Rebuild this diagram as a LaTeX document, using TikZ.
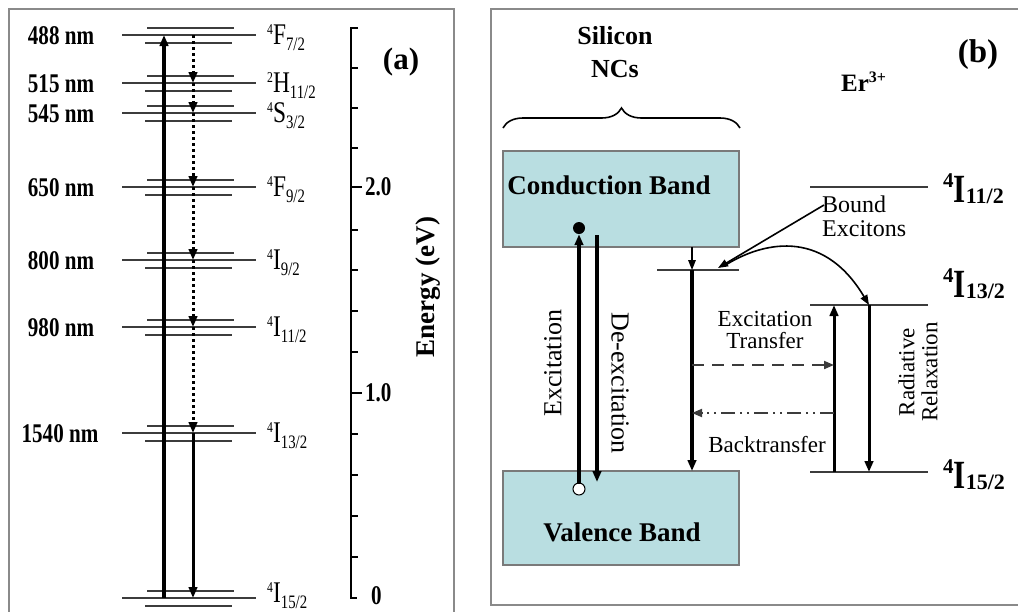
\documentclass[tikz,border=0pt]{standalone}
\usepackage{fontspec}
\setmainfont{Liberation Serif}
\newfontfamily\condfont[FakeStretch=0.78]{Liberation Serif}
\usetikzlibrary{arrows.meta,decorations.pathreplacing}
\definecolor{bandfill}{HTML}{B9DEE1}
\definecolor{bandedge}{HTML}{7A7A7A}
\definecolor{framegray}{HTML}{8A8A8A}
\definecolor{lvlc}{HTML}{3C3C3C}
\newcommand{\fsz}[1]{\fontsize{#1}{#1}\selectfont}
\newcommand{\termA}[3]{{\condfont\fsz{30}\raisebox{10pt}{\fsz{15}#1}#2\raisebox{-6pt}{\fsz{19}#3}}}
\newcommand{\termB}[3]{{\bfseries\raisebox{15pt}{\fsz{21}#1}{\condfont\fsz{40}#2}\raisebox{-1pt}{\fsz{22}#3}}}
\begin{document}
\begin{tikzpicture}[x=1pt,y=-1pt,
  lvl/.style={draw=lvlc, line width=1.5pt},
  lvlb/.style={draw=lvlc, line width=1.7pt},
  frame/.style={draw=framegray, line width=1.5pt},
  tipd/.style={-{Triangle[length=11pt,width=8.5pt]}},
  bigarr/.style={tipd, line width=3.4pt},
  medarr/.style={tipd, line width=3pt},
  thinarr/.style={-{Triangle[length=10pt,width=7.5pt]}, line width=1.6pt},
  dotarr/.style={medarr, dash pattern=on 3pt off 3pt},
  nmlab/.style={anchor=base, font=\condfont\bfseries\fsz{27}, inner sep=0pt},
  termlab/.style={anchor=base west, inner sep=0pt},
  ticklab/.style={anchor=west, font=\condfont\bfseries\fsz{27}, inner sep=0pt},
  band/.style={draw=bandedge, fill=bandfill, line width=1.2pt, minimum width=236pt, inner sep=0pt},
  bandlab/.style={font=\bfseries\fsz{27}, inner sep=0pt},
  txt/.style={font=\fsz{23}, inner sep=0pt, align=center},
]
\useasboundingbox (0,0) rectangle (1018,611);

% ---------- panel frames ----------
\draw[frame] (9,9) rectangle (454,630);
\draw[frame] (491,9) rectangle (1030,605);

% ---------- panel (a): levels ----------
\foreach \i/\y in {1/35,2/83,3/113,4/187,5/260,6/327,7/433,8/598}{
  \draw[lvl] (122,\y) -- (256,\y);
  \draw[lvl] (147,{\y-7}) -- (234,{\y-7});
  \draw[lvl] (145,{\y+8}) -- (232,{\y+8});
  \coordinate (d\i) at (193,\y);
  \coordinate (u\i) at (164,\y);
}
\node[nmlab] (nm1) at (61,44) {488 nm};
\node[nmlab] (nm2) at (61,92) {515 nm};
\node[nmlab] (nm3) at (61,122) {545 nm};
\node[nmlab] (nm4) at (61,196) {650 nm};
\node[nmlab] (nm5) at (61,269) {800 nm};
\node[nmlab] (nm6) at (61,336) {980 nm};
\node[nmlab] (nm7) at (60,442) {1540 nm};

\node[termlab] (t1) at (267,44) {\termA{4}{F}{7/2}};
\node[termlab] (t2) at (267,92) {\termA{2}{H}{11/2}};
\node[termlab] (t3) at (267,122) {\termA{4}{S}{3/2}};
\node[termlab] (t4) at (267,196) {\termA{4}{F}{9/2}};
\node[termlab] (t5) at (267,269) {\termA{4}{I}{9/2}};
\node[termlab] (t6) at (267,336) {\termA{4}{I}{11/2}};
\node[termlab] (t7) at (267,442) {\termA{4}{I}{13/2}};
\node[termlab] (t8) at (267,602) {\termA{4}{I}{15/2}};

% arrows in (a)
\draw[bigarr] (u8) -- (u1);
\foreach \a/\b in {1/2,2/3,3/4,4/5,5/6,6/7}{
  \draw[dotarr] (d\a) -- (d\b);
}
\draw[medarr] (d7) -- (d8);

% energy axis
\draw[line width=2.2pt] (358,28) -- (351,28) -- (351,598) -- (357,598);
\foreach \y in {68,108,148,230,270,311,352,434,475,516,557}{
  \draw[line width=2.2pt] (351,\y) -- (358,\y);
}
\draw[line width=2.2pt] (351,187) -- (362,187);
\draw[line width=2.2pt] (351,393) -- (362,393);
\node[ticklab] (e2) at (365,187) {2.0};
\node[ticklab] (e1) at (365,393) {1.0};
\node[ticklab] (e0) at (371,596) {0};
\node[font=\bfseries\fsz{27}, rotate=90, inner sep=0pt] (eax) at (428,287) {Energy (eV)};
\node[font=\bfseries\fsz{31}, inner sep=0pt] (pa) at (401,62) {(a)};

% ---------- panel (b) ----------
\node[font=\bfseries\fsz{26}, inner sep=0pt] (si1) at (615,36) {Silicon};
\node[font=\bfseries\fsz{26}, inner sep=0pt] (si2) at (615,69) {NCs};
\draw[line width=1.6pt, decorate, decoration={brace, amplitude=20pt}] (503,128) -- (740,128);

\node[band, minimum height=96pt] (cb) at (621,199) {};
\node[bandlab] (cbl) at (609,185) {Conduction Band};
\node[band, minimum height=94pt] (vb) at (621,518) {};
\node[bandlab] (vbl) at (622,532) {Valence Band};

% excitation / de-excitation
\node[circle, fill=black, inner sep=0pt, minimum size=12pt] (el) at (579,228) {};
\node[circle, draw=black, fill=white, line width=1pt, inner sep=0pt, minimum size=12pt] (ho) at (579,489) {};
\draw[bigarr, shorten <=-1pt] (ho) -- (el);
\coordinate (de1) at (597,235);
\coordinate (de2) at (597,482);
\draw[bigarr] (de1) -- (de2);
\node[font=\fsz{26}, rotate=90, inner sep=0pt] (exl) at (553,363) {Excitation};
\node[font=\fsz{26}, rotate=-90, inner sep=0pt] (dexl) at (620,383) {De-excitation};

% bound exciton level
\draw[lvlb] (657,270) -- (739,270);
\coordinate (cbt) at (692,247);
\coordinate (bx) at (692,270);
\coordinate (vbt) at (692,471);
\draw[thinarr] (cbt) -- (bx);
\draw[bigarr] (bx) -- (vbt);

% Er levels
\draw[lvlb] (810,187) -- (928,187);
\draw[lvlb] (810,305) -- (928,305);
\draw[lvlb] (810,472) -- (928,472);
\node[termlab] (b1) at (943,202) {\termB{4}{I}{11/2}};
\node[termlab] (b2) at (943,297) {\termB{4}{I}{13/2}};
\node[termlab] (b3) at (943,488) {\termB{4}{I}{15/2}};
\node[anchor=base west, inner sep=0pt, font=\bfseries\fsz{25}] (er) at (841,91) {Er\raisebox{9pt}{\fsz{16}3+}};
\node[font=\bfseries\fsz{33}, inner sep=0pt] (pb) at (978,55) {(b)};

% bound excitons label and arrows
\node[anchor=north west, txt, font=\fsz{24}, align=left] (bexl) at (822,196) {Bound\\[0pt]Excitons};
\coordinate (bp) at (824,205);
\coordinate (btip) at (718,268);
\draw[thinarr] (bp) -- (btip);
\coordinate (cv0) at (724,266);
\coordinate (cv1) at (869,305);
\draw[thinarr] (cv0) .. controls (760,243) and (822,226) .. (cv1);

% Er transitions
\coordinate (xt0) at (834,472);
\coordinate (xt1) at (834,305);
\draw[medarr] (xt0) -- (xt1);
\coordinate (rr0) at (869,305);
\coordinate (rr1) at (869,472);
\draw[medarr] (rr0) -- (rr1);
\node[txt, rotate=90] (rrl) at (918,372) {Radiative\\Relaxation};

% transfer arrows
\coordinate (et0) at (692,365);
\coordinate (et1) at (834,365);
\draw[draw=lvlc, line width=1.9pt, dash pattern=on 12pt off 8pt, -{Triangle[length=10pt,width=8pt]}] (et0) -- (et1);
\coordinate (bt0) at (834,413);
\coordinate (bt1) at (692,413);
\draw[draw=lvlc, line width=1.9pt, dash pattern=on 14pt off 5pt on 2pt off 5pt on 2pt off 5pt, -{Triangle[length=10pt,width=8pt]}] (bt0) -- (bt1);
\node[txt] (etl) at (765,330) {Excitation\\[-1pt]Transfer};
\node[txt] (btl) at (767,445) {Backtransfer};
\end{tikzpicture}
\end{document}
